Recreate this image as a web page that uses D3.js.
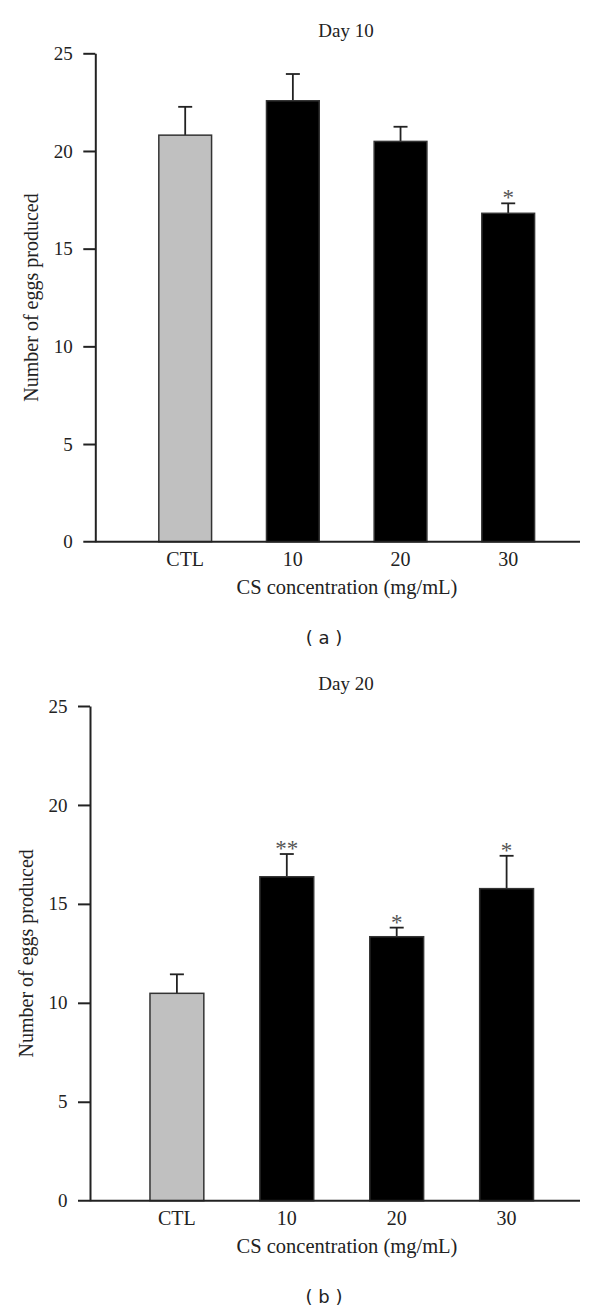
<!DOCTYPE html>
<meta charset="utf-8">
<script src="https://d3js.org/d3.v7.min.js"></script>
<style>
  body { margin: 0; background: #fff; }
  text { font-family: "Liberation Serif", "Times New Roman", serif; fill: #222; }
</style>
<div id="my_dataviz"></div>
<script>
// data
const categories = ["CTL", "10", "20", "30"];
const day10Means = [20.81, 22.57, 20.49, 16.81];
const day10Errors = [1.45, 1.37, 0.75, 0.51];
const day10Stars = ["", "", "", "*"];
const day20Means = [10.48, 16.37, 13.34, 15.77];
const day20Errors = [0.96, 1.15, 0.46, 1.66];
const day20Stars = ["", "**", "*", "*"];
const yTicks = [0, 5, 10, 15, 20, 25];
const barColors = ["#c0c0c0", "#000", "#000", "#000"];

const svg = d3.select("#my_dataviz")
  .append("svg")
  .attr("width", 600)
  .attr("height", 1307);

function panel(opt) {
  const g = svg.append("g");

  const y = d3.scaleLinear().domain([0, 25]).range([opt.y0, opt.y25]);
  const x = d3.scaleBand()
    .domain(categories)
    .range([opt.xl, opt.xr])
    .paddingInner(0.51)
    .paddingOuter(0.25);

  const data = categories.map((c, i) => ({ c, v: opt.means[i], e: opt.errors[i], s: opt.stars[i], col: barColors[i] }));

  // error bars (bar covers the lower half)
  g.selectAll(".err")
    .data(data)
    .join("line")
    .attr("x1", d => x(d.c) + x.bandwidth() / 2)
    .attr("x2", d => x(d.c) + x.bandwidth() / 2)
    .attr("y1", d => y(d.v))
    .attr("y2", d => y(d.v + d.e))
    .attr("stroke", "#222")
    .attr("stroke-width", 1.8);
  g.selectAll(".cap")
    .data(data)
    .join("line")
    .attr("x1", d => x(d.c) + x.bandwidth() / 2 - 7)
    .attr("x2", d => x(d.c) + x.bandwidth() / 2 + 7)
    .attr("y1", d => y(d.v + d.e))
    .attr("y2", d => y(d.v + d.e))
    .attr("stroke", "#222")
    .attr("stroke-width", 1.8);

  g.selectAll(".bar")
    .data(data)
    .join("rect")
    .attr("x", d => x(d.c))
    .attr("y", d => y(d.v))
    .attr("width", x.bandwidth())
    .attr("height", d => y(0) - y(d.v))
    .attr("fill", d => d.col)
    .attr("stroke", "#333")
    .attr("stroke-width", 1.5);

  // significance stars
  g.selectAll(".star")
    .data(data.filter(d => d.s))
    .join("text")
    .attr("x", d => x(d.c) + x.bandwidth() / 2)
    .attr("y", d => y(d.v + d.e) + 2)
    .attr("text-anchor", "middle")
    .style("font-size", "23px")
    .style("fill", "#555")
    .text(d => d.s);

  // y axis
  const yAxis = g.append("g")
    .attr("transform", `translate(${opt.ax}, 0)`)
    .call(d3.axisLeft(y).tickValues(yTicks).tickSize(12).tickPadding(10.5).tickSizeOuter(0));
  yAxis.attr("font-family", null);
  yAxis.select(".domain").attr("stroke", "#222").attr("stroke-width", 2);
  yAxis.selectAll(".tick line").attr("stroke", "#222").attr("stroke-width", 2);
  yAxis.selectAll(".tick text").style("font-size", "19px").style("font-family", "Liberation Serif, serif");
  yAxis.selectAll(".tick").filter(d => d === 0).select("line").remove();

  // x axis
  const xAxis = g.append("g")
    .attr("transform", `translate(0, ${y(0)})`)
    .call(d3.axisBottom(x).tickSize(0).tickPadding(10.5));
  xAxis.attr("font-family", null);
  xAxis.select(".domain").remove();
  xAxis.selectAll(".tick text").style("font-size", "20px").style("font-family", "Liberation Serif, serif");
  g.append("line")
    .attr("x1", opt.ax - 12)
    .attr("x2", 580)
    .attr("y1", y(0))
    .attr("y2", y(0))
    .attr("stroke", "#222")
    .attr("stroke-width", 2);

  // titles
  g.append("text")
    .attr("x", 346)
    .attr("y", y(25) - 16.5)
    .attr("text-anchor", "middle")
    .style("font-size", "19px")
    .text(opt.title);

  g.append("text")
    .attr("x", 347)
    .attr("y", y(0) + 52.5)
    .attr("text-anchor", "middle")
    .style("font-size", "20.5px")
    .text("CS concentration (mg/mL)");

  g.append("text")
    .attr("transform", `translate(${opt.ax - 57}, ${(y(0) + y(25)) / 2}) rotate(-90)`)
    .attr("text-anchor", "middle")
    .style("font-size", "20px")
    .text("Number of eggs produced");

  g.append("text")
    .attr("x", 324)
    .attr("y", y(0) + 102)
    .attr("text-anchor", "middle")
    .style("font-family", "DejaVu Sans, sans-serif")
    .style("font-size", "18px")
    .text("( " + opt.letter + " )");
}

panel({ title: "Day 10", letter: "a", means: day10Means, errors: day10Errors, stars: day10Stars,
        y0: 541.7, y25: 53.3, ax: 95.3, xl: 131.9, xr: 561.5 });
panel({ title: "Day 20", letter: "b", means: day20Means, errors: day20Errors, stars: day20Stars,
        y0: 1200.7, y25: 706, ax: 90, xl: 122.5, xr: 561 });
</script>
